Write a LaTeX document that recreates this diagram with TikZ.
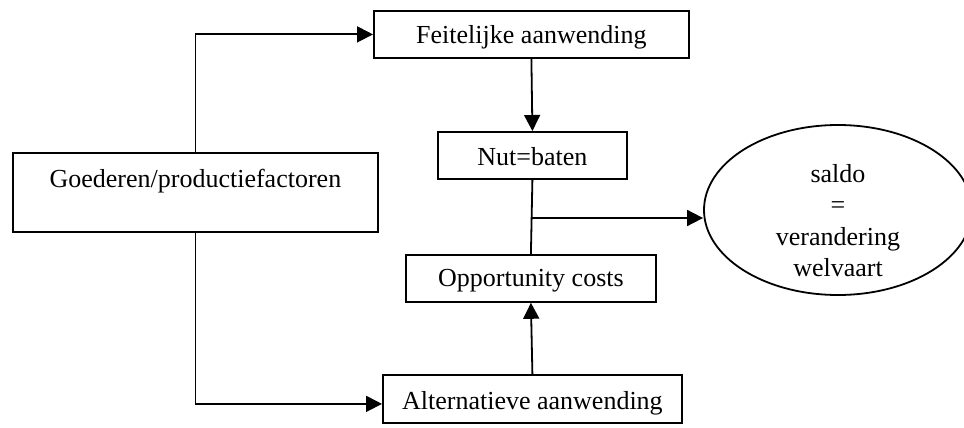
\documentclass[tikz,border=0pt]{standalone}
\usepackage{fontspec}
\setmainfont{Liberation Serif}
\usetikzlibrary{arrows.meta,shapes.geometric,calc}
\begin{document}
\begin{tikzpicture}[x=1pt,y=-1pt,
  every node/.style={font=\fontsize{26}{31.5}\selectfont},
  boxnode/.style={draw,line width=1.8pt,rectangle,inner sep=0pt,anchor=north west,
    text height=33pt,text depth=14pt,align=center},
  line/.style={line width=1.8pt},
  arr/.style={line width=1.8pt,-{Triangle[length=16pt,width=16pt]}}]
\useasboundingbox (0,0) rectangle (964,428);
\clip (0,0) rectangle (964,428);
\node[boxnode,minimum width=315pt] (feit) at (373,10) {Feitelijke aanwending};
\node[boxnode,minimum width=189pt,text height=34pt,text depth=13pt] (nut) at (437,131) {Nut=baten};
\node[boxnode,minimum width=365pt,text height=35pt,text depth=44pt] (goed) at (12,152) {Goederen/productiefactoren};
\node[boxnode,minimum width=250pt,text height=32pt,text depth=15pt] (opp) at (405,254) {Opportunity costs};
\node[boxnode,minimum width=299pt,text height=35pt,text depth=13pt] (alt) at (382,374) {Alternatieve aanwending};
\node[draw,line width=1.8pt,ellipse,inner sep=0pt,minimum width=268pt,minimum height=170pt] (ell) at (838,210) {};
\node[align=center,inner sep=0pt] (saldotxt) at (838,220.5) {saldo\\=\\verandering\\welvaart};
\coordinate (j) at (531,218);
\draw[arr] (goed.north) |- (feit.west);
\draw[arr] (goed.south) |- ($(alt.west)+(0,5)$);
\draw[arr] (feit.south) -- (nut.north);
\draw[arr] (alt.north) -- (opp.south);
\draw[line] (nut.south) -- (opp.north);
\draw[arr] (j) -- (j -| ell.west);
\end{tikzpicture}
\end{document}
